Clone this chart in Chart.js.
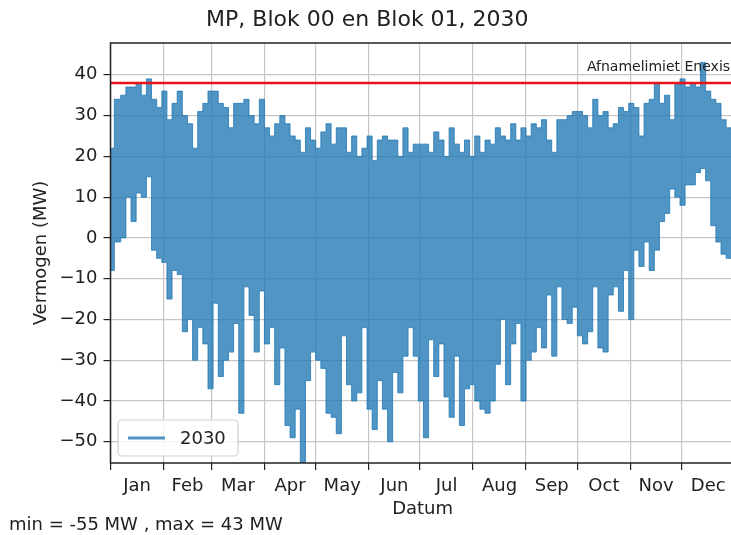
<!DOCTYPE html>
<html lang="nl">
  <head>
    <meta charset="UTF-8" />
    <meta name="viewport" content="width=device-width, initial-scale=1.0" />
    <title>MP, Blok 00 en Blok 01, 2030</title>

    <style>
      * {
        margin: 0;
        padding: 0;
        box-sizing: border-box;
      }
      body {
        background-color: #fff;
        width: 731px;
        height: 535px;
        overflow: hidden;
      }
      /* de figuur loopt rechts een paar pixels buiten beeld, net als het origineel */
      .wrapper {
        width: 736px;
        height: 535px;
      }
    </style>
    <script src="https://cdn.jsdelivr.net/npm/chart.js"></script>
  </head>
  <body>
    <div class="wrapper">
      <canvas id="vermogenChart" width="736" height="535"></canvas>
    </div>

    <script>
      const monthNames = ["Jan", "Feb", "Mar", "Apr", "May", "Jun", "Jul", "Aug", "Sep", "Oct", "Nov", "Dec"];
      const monthStarts = [0, 31, 59, 90, 120, 151, 181, 212, 243, 273, 304, 334];
      const yearDays = 365;
      const yTicks = [-50, -40, -30, -20, -10, 0, 10, 20, 30, 40];

      // hoogste en laagste vermogen (MW) per blok van 3 dagen
      const blockHigh = [
        22, 34, 35, 37, 37, 38, 35, 39, 34, 32,
        36, 29, 33, 36, 30, 28, 22, 31, 33, 36,
        36, 33, 32, 27, 33, 33, 34, 30, 28, 34,
        27, 25, 28, 30, 28, 25, 24, 21, 27, 24,
        22, 26, 28, 23, 27, 27, 21, 25, 20, 22,
        25, 19, 24, 25, 24, 24, 20, 27, 21, 23,
        23, 23, 21, 26, 24, 20, 27, 23, 21, 24,
        20, 25, 21, 24, 23, 27, 25, 24, 28, 24,
        27, 25, 28, 27, 29, 24, 21, 29, 29, 30,
        31, 31, 30, 27, 34, 30, 31, 27, 28, 32,
        31, 33, 32, 25, 33, 34, 38, 33, 35, 29,
        38, 39, 37, 38, 37, 43, 36, 34, 33, 29,
        27, 22
      ];
      const blockLow = [
        -8, -1, 0, 10, 4, 11, 10, 15, -3, -5,
        -6, -15, -8, -9, -23, -20, -30, -22, -26, -37,
        -16, -34, -30, -28, -21, -43, -12, -19, -28, -13,
        -26, -22, -36, -27, -46, -49, -42, -55, -35, -28,
        -30, -32, -43, -44, -48, -24, -36, -40, -38, -22,
        -42, -47, -35, -42, -50, -33, -38, -29, -22, -29,
        -40, -49, -25, -34, -26, -39, -44, -29, -46, -37,
        -36, -40, -42, -43, -40, -31, -20, -36, -26, -21,
        -40, -30, -28, -22, -27, -14, -29, -12, -20, -21,
        -17, -24, -26, -23, -12, -27, -28, -14, -12, -18,
        -8, -20, -3, -7, -1, -8, -3, 4, 6, 12,
        10, 8, 13, 13, 16, 17, 14, 3, -1, -4,
        -5, -6
      ];
      const limitValue = 38;
      const limitLabel = "Afnamelimiet Enexis";
      const seriesLabel = "2030";

      const blue = "rgba(31, 119, 180, 0.78)";
      const gridColor = "#c6c6c6";

      // midden van het blok op de dagas, eerste en laatste tegen de rand
      const blockDays = blockHigh.map((_, i) => {
        if (i === 0) return 0;
        if (i === blockHigh.length - 1) return yearDays;
        return 3 * i + 1.5;
      });
      const monthMids = monthStarts.map((start, i) => (start + (monthStarts[i + 1] ?? yearDays)) / 2);

      Chart.defaults.font.family = "'DejaVu Sans', sans-serif";
      Chart.defaults.color = "#222";

      const framePlugin = {
        id: "frame",
        afterDatasetsDraw(chart) {
          const { ctx, chartArea: a, scales } = chart;
          ctx.save();
          ctx.strokeStyle = "#222";
          ctx.lineWidth = 1.5;
          ctx.strokeRect(a.left, a.top, a.right - a.left, a.bottom - a.top);

          // label bij de limietlijn
          ctx.font = "14px 'DejaVu Sans'";
          ctx.fillStyle = "#222";
          ctx.textAlign = "right";
          ctx.textBaseline = "alphabetic";
          ctx.fillText(limitLabel, scales.x.getPixelForValue(362.3), scales.y.getPixelForValue(limitValue) - 12);

          // legenda linksonder
          const lx = a.left + 7.5;
          const ly = a.bottom - 43;
          ctx.beginPath();
          ctx.roundRect(lx, ly, 120, 36, 4);
          ctx.fillStyle = "rgba(255,255,255,0.8)";
          ctx.fill();
          ctx.strokeStyle = "#d0d0d0";
          ctx.lineWidth = 1.2;
          ctx.stroke();
          ctx.beginPath();
          ctx.moveTo(lx + 10, ly + 18);
          ctx.lineTo(lx + 47, ly + 18);
          ctx.strokeStyle = blue;
          ctx.lineWidth = 2.8;
          ctx.stroke();
          ctx.fillStyle = "#222";
          ctx.textAlign = "left";
          ctx.textBaseline = "middle";
          ctx.font = "18px 'DejaVu Sans'";
          ctx.fillText(seriesLabel, lx + 62, ly + 19);

          // min en max onder de figuur
          const minValue = Math.min(...blockLow);
          const maxValue = Math.max(...blockHigh);
          ctx.textBaseline = "alphabetic";
          ctx.fillText(`min = ${minValue} MW , max = ${maxValue} MW`, 9, 530);
          ctx.restore();
        },
      };

      new Chart(document.getElementById("vermogenChart"), {
        type: "line",
        data: {
          datasets: [
            {
              label: seriesLabel,
              data: blockDays.map((d, i) => ({ x: d, y: blockHigh[i] })),
              borderColor: blue,
              backgroundColor: blue,
              borderWidth: 1,
              pointRadius: 0,
              stepped: "middle",
              fill: "+1",
              order: 2,
            },
            {
              label: seriesLabel + " min",
              data: blockDays.map((d, i) => ({ x: d, y: blockLow[i] })),
              borderColor: blue,
              borderWidth: 1,
              pointRadius: 0,
              stepped: "middle",
              fill: false,
              order: 2,
            },
            {
              label: limitLabel,
              data: [
                { x: 0, y: limitValue },
                { x: yearDays, y: limitValue },
              ],
              borderColor: "#e8141a",
              borderWidth: 2.6,
              pointRadius: 0,
              fill: false,
              order: 1,
            },
          ],
        },
        options: {
          responsive: false,
          animation: false,
          devicePixelRatio: 1,
          layout: { padding: { left: 0, right: 1.3, top: 0, bottom: 0 } },
          plugins: {
            legend: { display: false },
            tooltip: { enabled: false },
            title: {
              display: true,
              text: "MP, Blok 00 en Blok 01, 2030",
              color: "#222",
              font: { size: 22, weight: "normal" },
              padding: { top: 7, bottom: 9.6 },
            },
          },
          scales: {
            x: {
              type: "linear",
              min: 0,
              max: yearDays,
              afterBuildTicks: scale => {
                const ticks = [];
                monthStarts.forEach((start, i) => {
                  ticks.push({ value: start });
                  ticks.push({ value: monthMids[i] });
                });
                scale.ticks = ticks;
              },
              afterFit: scale => {
                scale.height = 72;
              },
              grid: {
                color: c => (monthStarts.includes(c.tick.value) ? gridColor : "rgba(0,0,0,0)"),
                tickColor: c => (monthStarts.includes(c.tick.value) ? "#222" : "rgba(0,0,0,0)"),
                lineWidth: 1.2,
                tickLength: 7,
              },
              border: { display: false },
              ticks: {
                autoSkip: false,
                maxRotation: 0,
                padding: 6,
                color: "#222",
                font: { size: 18 },
                callback: value => {
                  const i = monthMids.indexOf(value);
                  return i >= 0 ? monthNames[i] : "";
                },
              },
              title: {
                display: true,
                text: "Datum",
                color: "#222",
                font: { size: 18 },
                padding: { top: 0, bottom: 15 },
              },
            },
            y: {
              min: -55.2,
              max: 47.8,
              afterBuildTicks: scale => {
                scale.ticks = yTicks.map(v => ({ value: v }));
              },
              afterFit: scale => {
                scale.width = 110.5;
              },
              grid: {
                color: gridColor,
                tickColor: "#222",
                lineWidth: 1.2,
                tickLength: 7,
              },
              border: { display: false },
              ticks: {
                padding: 6,
                color: "#222",
                font: { size: 18 },
                callback: v => (v < 0 ? "\u2212" + Math.abs(v) : String(v)),
              },
              title: {
                display: true,
                text: "Vermogen (MW)",
                color: "#222",
                font: { size: 18 },
                padding: { top: 31, bottom: 0 },
              },
            },
          },
        },
        plugins: [framePlugin],
      });
    </script>
  </body>
</html>
